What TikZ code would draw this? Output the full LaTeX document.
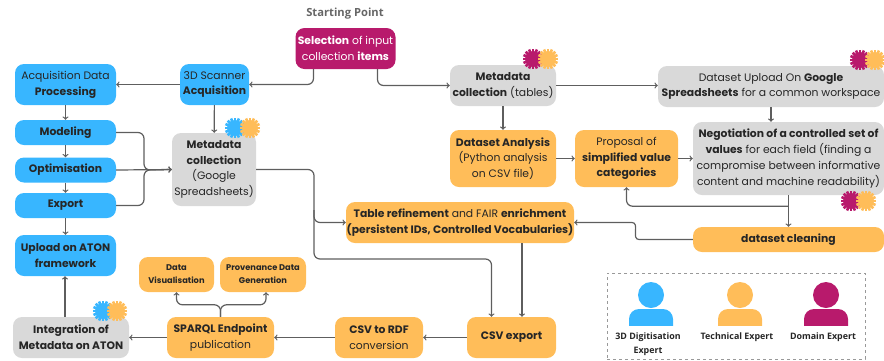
\documentclass[tikz,border=0pt]{standalone}
\usepackage{fontspec}
\setmainfont{Poppins}
\newfontfamily\legendfont{Open Sans}
\usetikzlibrary{positioning}
\definecolor{expblue}{HTML}{38B6FF}
\definecolor{exporange}{HTML}{FFBD59}
\definecolor{expmagenta}{HTML}{B81A6C}
\definecolor{boxgrey}{HTML}{D9D9D9}
\definecolor{linegrey}{HTML}{5E5E5E}
\tikzset{
  box/.style={rounded corners=9pt, inner sep=0pt, align=center, font=\fontsize{10.8}{15.8}\selectfont, text=black!85},
  bluebox/.style={box, fill=expblue},
  orangebox/.style={box, fill=exporange},
  greybox/.style={box, fill=boxgrey},
  magbox/.style={box, fill=expmagenta, text=white},
  flow/.style={->, line width=1.2pt, color=linegrey, rounded corners=6pt},
  legendlabel/.style={font=\legendfont\bfseries\fontsize{8.9}{13.5}\selectfont, align=center, text=black!85},
  gearmark/.pic={
    \fill circle (8);
    \foreach \a in {0,22.5,...,337.5} \fill[rotate=\a] (-1.3,0) rectangle (1.3,10.3);
  }
}
\begin{document}
\begin{tikzpicture}[x=1pt,y=-1pt]
  \useasboundingbox (0,0) rectangle (884,360);
  \node[font=\legendfont\bfseries\fontsize{11.2}{13}\selectfont, text=black!60] (start) at (345,14) {Starting Point};
  \node[magbox, minimum width=100pt, minimum height=41pt] (sel) at (345.5,48.5) {\textbf{Selection} of input\\collection \textbf{items}};
  % left column
  \node[bluebox, minimum width=101pt, minimum height=41pt] (acq) at (65.5,84.5) {Acquisition Data\\\textbf{Processing}};
  \node[bluebox, minimum width=69pt, minimum height=41pt] (scan) at (214.5,84.5) {3D Scanner\\\textbf{Acquisition}};
  \node[bluebox, minimum width=101pt, minimum height=25pt] (mod) at (65.5,132.5) {\textbf{Modeling}};
  \node[bluebox, minimum width=101pt, minimum height=25pt] (opt) at (65.5,170) {\textbf{Optimisation}};
  \node[bluebox, minimum width=101pt, minimum height=25pt] (exp) at (65.5,205.5) {\textbf{Export}};
  \node[bluebox, minimum width=101pt, minimum height=41pt] (upl) at (65.5,255.5) {\textbf{Upload on ATON}\\\textbf{framework}};
  \node[greybox, minimum width=84pt, minimum height=73pt] (colg) at (214,169.5) {\textbf{Metadata}\\\textbf{collection}\\(Google\\Spreadsheets)};
  % top right
  \node[greybox, minimum width=106pt, minimum height=41pt] (colt) at (503,85.5) {\textbf{Metadata}\\\textbf{collection} (tables)};
  \node[greybox, minimum width=226pt, minimum height=41pt] (dsu) at (771,86.5) {Dataset Upload On \textbf{Google}\\\textbf{Spreadsheets} for a common workspace};
  \node[orangebox, minimum width=106pt, minimum height=57pt] (ana) at (503,158.5) {\textbf{Dataset Analysis}\\(Python analysis\\on CSV file)};
  \node[orangebox, minimum width=103pt, minimum height=57pt] (prop) at (626.5,158.5) {Proposal of\\\textbf{simplified value}\\\textbf{categories}};
  \node[greybox, minimum width=191pt, minimum height=73pt] (neg) at (788.5,158.5) {\textbf{Negotiation of a controlled set of}\\\textbf{values} for each field (finding a\\compromise between informative\\content and machine readability)};
  \node[orangebox, minimum width=228pt, minimum height=41pt] (tab) at (460,222.5) {\textbf{Table refinement} and FAIR \textbf{enrichment}\\\textbf{(persistent IDs, Controlled Vocabularies)}};
  \node[orangebox, minimum width=191pt, minimum height=25pt] (clean) at (788.5,239.5) {\textbf{dataset cleaning}};
  % bottom row
  \node[orangebox, minimum width=89pt, minimum height=41pt] (csvx) at (511.5,337.5) {\textbf{CSV export}};
  \node[orangebox, minimum width=88pt, minimum height=41pt] (rdf) at (379,337.5) {\textbf{CSV to RDF}\\conversion};
  \node[orangebox, minimum width=107pt, minimum height=41pt] (spq) at (220.5,337.5) {\textbf{SPARQL Endpoint}\\publication};
  \node[greybox, minimum width=116pt, minimum height=41pt] (intg) at (71,337.5) {\textbf{Integration of}\\\textbf{Metadata on ATON}};
  \node[orangebox, minimum width=75pt, minimum height=35pt, font=\fontsize{8.3}{13.2}\selectfont] (vis) at (176.5,274.5) {\textbf{Data}\\\textbf{Visualisation}};
  \node[orangebox, minimum width=86pt, minimum height=35pt, font=\fontsize{8.3}{13.2}\selectfont] (prv) at (263,274.5) {\textbf{Provenance Data}\\\textbf{Generation}};
  % connectors
  \draw[flow] ([xshift=-32pt]sel.south) |- (scan.east);
  \draw[flow] ([xshift=32pt]sel.south) |- (colt.west);
  \draw[flow] (scan) -- (acq);
  \draw[flow] (scan) -- (colg);
  \draw[flow] (acq) -- (mod);
  \draw[flow] (mod) -- (opt);
  \draw[flow] (opt) -- (exp);
  \draw[flow] (exp) -- (upl);
  \coordinate (jn) at (144,170);
  \draw[flow] (mod.east) -| (jn) -- (colg.west);
  \draw[flow] (exp.east) -| (jn) -- (colg.west);
  \draw[flow] (opt.east) -- (colg.west);
  \draw[flow] (colt.east) -- (colt.east -| dsu.west);
  \draw[flow] (colt) -- (ana);
  \draw[flow] (dsu.south) -- (dsu.south |- neg.north);
  \draw[flow] (ana) -- (prop);
  \draw[flow] (prop) -- (neg);
  \draw[flow] (neg) -- (clean);
  \coordinate (negb) at ([yshift=-11pt]neg.south);
  \draw[flow] (negb) -| (prop.south);
  \coordinate (bus) at (314,259);
  \coordinate (busb) at (314,210);
  \draw[flow] (colg.east) -| (bus) -| ([xshift=-20pt]csvx.north);
  \draw[flow] (busb) |- (tab.west);
  \draw[flow] ([xshift=62pt]tab.south) -- ([xshift=10.5pt]csvx.north);
  \draw[flow] (clean.west) -- (645,239.5) .. controls (631,239.5) and (640,222.5) .. (626,222.5) -- (tab.east);
  \draw[flow] (csvx) -- (rdf);
  \draw[flow] (rdf) -- (spq);
  \draw[flow] (spq) -- (intg);
  \draw[flow] ([xshift=-6pt]intg.north) -- ([xshift=-0.5pt]upl.south);
  \coordinate (fork) at ([yshift=12pt]spq.north);
  \draw[flow] (spq.north) -- (fork) -| (vis.south);
  \draw[flow] (spq.north) -- (fork) -| ([xshift=3pt]prv.south);
  % expert marks
  \path[color=expblue] (235,128) pic {gearmark};
  \path[color=exporange] (250,128) pic {gearmark};
  \path[color=expmagenta] (533,59) pic {gearmark};
  \path[color=exporange] (548,59) pic {gearmark};
  \path[color=expmagenta] (860,60) pic {gearmark};
  \path[color=exporange] (875,60) pic {gearmark};
  \path[color=expmagenta] (851,201) pic {gearmark};
  \path[color=exporange] (866,201) pic {gearmark};
  \path[color=expblue] (103,311) pic {gearmark};
  \path[color=exporange] (117,311) pic {gearmark};
  % legend
  \node[draw=black!40, dashed, line width=.7pt, minimum width=258pt, minimum height=86pt, inner sep=0pt] (legend) at (736,316) {};
  \foreach \cx/\col in {651/expblue,740/exporange,826/expmagenta} {
    \fill[\col] (\cx,295) circle (13);
    \fill[\col, rounded corners=10pt] (\cx-22,340) -- (\cx-22,309) -- (\cx+22,309) -- (\cx+22,340) -- cycle;
    \fill[white] (\cx-23,326) rectangle (\cx+23,341);
  }
  \node[legendlabel] (lab1) at (648,344) {3D Digitisation\\Expert};
  \node[legendlabel] (lab2) at (737,337.5) {Technical Expert};
  \node[legendlabel] (lab3) at (823,337.5) {Domain Expert};
\end{tikzpicture}
\end{document}
